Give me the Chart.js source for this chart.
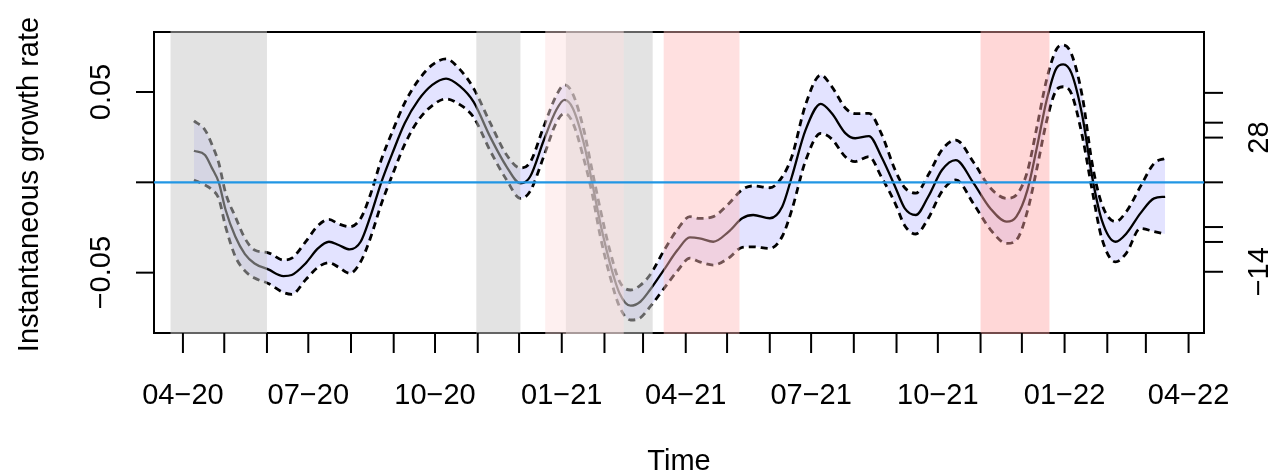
<!DOCTYPE html>
<html>
<head>
<meta charset="utf-8">
<title>Instantaneous growth rate</title>
<script src="https://cdn.jsdelivr.net/npm/chart.js@4.4.1/dist/chart.umd.min.js"></script>
<style>
  html, body { margin: 0; padding: 0; background: #fff; }
</style>
</head>
<body>
<canvas id="growth-chart" width="1282" height="473"></canvas>
<script>
// Smoothed growth rate estimate with its confidence band
const dates = [
  '2020-04-09', '2020-04-17', '2020-04-22', '2020-04-27', '2020-05-02', '2020-05-09', '2020-05-16', '2020-05-23',
  '2020-06-02', '2020-06-13', '2020-06-19', '2020-06-29', '2020-07-08', '2020-07-16', '2020-07-23', '2020-07-31',
  '2020-08-08', '2020-08-15', '2020-08-23', '2020-08-31', '2020-09-09', '2020-09-19', '2020-09-29', '2020-10-09',
  '2020-10-19', '2020-10-29', '2020-11-10', '2020-11-22', '2020-12-02', '2020-12-09', '2020-12-19', '2020-12-28',
  '2021-01-03', '2021-01-09', '2021-01-17', '2021-01-23', '2021-01-29', '2021-02-05', '2021-02-12', '2021-02-20',
  '2021-02-27', '2021-03-06', '2021-03-16', '2021-03-26', '2021-04-04', '2021-04-11', '2021-04-21', '2021-05-02',
  '2021-05-12', '2021-05-20', '2021-06-01', '2021-06-10', '2021-06-17', '2021-06-27', '2021-07-08', '2021-07-16',
  '2021-07-26', '2021-08-02', '2021-08-12', '2021-08-21', '2021-08-31', '2021-09-07', '2021-09-15', '2021-09-24',
  '2021-10-04', '2021-10-14', '2021-10-27', '2021-11-08', '2021-11-20', '2021-11-27', '2021-12-05', '2021-12-12',
  '2021-12-19', '2021-12-26', '2021-12-31', '2022-01-06', '2022-01-14', '2022-01-21', '2022-01-28', '2022-02-07',
  '2022-02-15', '2022-02-25', '2022-03-07', '2022-03-15'
];
const growth = [
  0.0175, 0.0151, 0.008, 0.0, -0.0153, -0.030, -0.0397, -0.0449,
  -0.0482, -0.0519, -0.0513, -0.0449, -0.0366, -0.0329, -0.0347, -0.0371,
  -0.0329, -0.019, 0.0, 0.016, 0.0327, 0.0456, 0.0539, 0.0574,
  0.0532, 0.0445, 0.0252, 0.0086, -0.0006, 0.0031, 0.0234, 0.040,
  0.0456, 0.041, 0.0216, 0.0, -0.0227, -0.0449, -0.0615, -0.0683,
  -0.0661, -0.0596, -0.0486, -0.0375, -0.0305, -0.031, -0.0329, -0.0274,
  -0.0199, -0.0181, -0.0199, -0.0135, 0.0031, 0.029, 0.0434, 0.0382,
  0.0271, 0.0244, 0.0256, 0.0142, -0.0024, -0.0144, -0.0181, -0.008,
  0.0068, 0.0123, -0.0006, -0.0144, -0.0218, -0.019, -0.0043, 0.0197,
  0.0456, 0.0631, 0.0653, 0.0604, 0.0363, 0.0031, -0.0209, -0.0329,
  -0.0282, -0.0172, -0.0089, -0.008
];
const upper = [
  0.034, 0.029, 0.021, 0.0107, -0.006, -0.019, -0.031, -0.0375,
  -0.039, -0.043, -0.042, -0.033, -0.024, -0.0205, -0.023, -0.0246,
  -0.020, -0.007, 0.0125, 0.028, 0.044, 0.0566, 0.065, 0.0683,
  0.0625, 0.052, 0.033, 0.0151, 0.0079, 0.011, 0.031, 0.048,
  0.0539, 0.049, 0.029, 0.0068, -0.015, -0.038, -0.055, -0.0596,
  -0.057, -0.0513, -0.038, -0.026, -0.019, -0.020, -0.019, -0.012,
  -0.004, -0.002, -0.003, 0.003, 0.0142, 0.043, 0.0594, 0.053,
  0.041, 0.038, 0.0382, 0.027, 0.0068, -0.003, -0.006, 0.004,
  0.018, 0.0234, 0.011, -0.003, -0.0089, -0.007, 0.006, 0.031,
  0.057, 0.0735, 0.076, 0.071, 0.047, 0.0105, -0.012, -0.0218,
  -0.016, -0.0024, 0.0105, 0.0133
];
const lower = [
  0.0013, -0.0015, -0.004, -0.009, -0.0246, -0.041, -0.049, -0.053,
  -0.056, -0.061, -0.062, -0.054, -0.047, -0.0445, -0.047, -0.0504,
  -0.044, -0.031, -0.012, 0.004, 0.021, 0.0345, 0.0425, 0.0462,
  0.043, 0.036, 0.0175, 0.0013, -0.0089, -0.005, 0.0145, 0.033,
  0.0382, 0.033, 0.013, -0.006, -0.030, -0.052, -0.069, -0.0762,
  -0.075, -0.069, -0.059, -0.049, -0.042, -0.044, -0.0458, -0.042,
  -0.036, -0.0357, -0.0366, -0.030, -0.0153, 0.012, 0.0271, 0.024,
  0.014, 0.0115, 0.0142, 0.003, -0.0116, -0.024, -0.0286, -0.020,
  -0.005, 0.0013, -0.012, -0.026, -0.0338, -0.032, -0.016, 0.008,
  0.034, 0.051, 0.0529, 0.049, 0.025, -0.0043, -0.031, -0.044,
  -0.039, -0.0255, -0.0273, -0.0286
];

// Shaded periods
const greyPeriods = [
  ['2020-03-23', '2020-06-01'],
  ['2020-10-31', '2020-12-02'],
  ['2021-01-04', '2021-03-08']
];
const redPeriods = [
  ['2020-12-20', '2021-02-15'],
  ['2021-03-16', '2021-05-10'],
  ['2021-11-01', '2021-12-21']
];

// Axis ticks
const xTickLabels = ['04\u221220', '07\u221220', '10\u221220', '01\u221221', '04\u221221', '07\u221221', '10\u221221', '01\u221222', '04\u221222'];
const leftTicks = [-0.05, 0, 0.05];
const leftLabels = ['\u22120.05', '', '0.05'];
const doublingTimes = [14, 21, 28, -28, -21, -14];   // days; 0 growth = no doubling
const doublingLabels = ['', '', '28', '', '', '\u221214'];

const DAY0 = Date.UTC(2020, 3, 1);
function toDay(s) {
  const p = s.split('-').map(Number);
  return (Date.UTC(p[0], p[1] - 1, p[2]) - DAY0) / 86400000;
}

// first of every month from 04-2020 to 04-2022
const monthTicks = [];
for (let i = 0; i <= 24; i++) {
  monthTicks.push((Date.UTC(2020, 3 + i, 1) - DAY0) / 86400000);
}

const FONT = '29px "Liberation Sans", Arial, sans-serif';
const redFills = ['rgba(253,222,222,0.45)', 'rgba(255,186,186,0.45)', 'rgba(255,166,166,0.45)'];

function series(values) {
  return values.map((v, i) => ({ x: toDay(dates[i]), y: v }));
}

function line(ctx, x1, y1, x2, y2) {
  ctx.beginPath();
  ctx.moveTo(x1, y1);
  ctx.lineTo(x2, y2);
  ctx.stroke();
}

function rotatedText(ctx, text, x, y) {
  ctx.save();
  ctx.translate(x, y);
  ctx.rotate(-Math.PI / 2);
  ctx.textAlign = 'center';
  ctx.textBaseline = 'alphabetic';
  ctx.fillText(text, 0, 0);
  ctx.restore();
}

const basePlot = {
  id: 'basePlot',
  beforeDatasetsDraw(chart) {
    const ctx = chart.ctx;
    const a = chart.chartArea;
    ctx.save();
    ctx.strokeStyle = '#000';
    ctx.lineWidth = 2;
    ctx.strokeRect(a.left, a.top, a.right - a.left, a.bottom - a.top);
    ctx.restore();
  },
  afterDatasetsDraw(chart) {
    const ctx = chart.ctx;
    const a = chart.chartArea;
    const xs = chart.scales.x;
    const ys = chart.scales.y;
    ctx.save();
    // grey periods, then red periods on top
    greyPeriods.forEach(p => {
      const x1 = xs.getPixelForValue(toDay(p[0]));
      const x2 = xs.getPixelForValue(toDay(p[1]));
      ctx.fillStyle = 'rgba(200,200,200,0.5)';
      ctx.fillRect(x1, a.top - 1, x2 - x1, a.bottom - a.top + 2);
    });
    redPeriods.forEach((p, i) => {
      const x1 = xs.getPixelForValue(toDay(p[0]));
      const x2 = xs.getPixelForValue(toDay(p[1]));
      ctx.fillStyle = redFills[i];
      ctx.fillRect(x1, a.top - 1, x2 - x1, a.bottom - a.top + 2);
    });
    // zero growth line
    const y0 = ys.getPixelForValue(0);
    ctx.strokeStyle = 'rgb(33,150,228)';
    ctx.lineWidth = 2.2;
    line(ctx, a.left, y0, a.right, y0);
    ctx.restore();
  },
  afterDraw(chart) {
    const ctx = chart.ctx;
    const a = chart.chartArea;
    const xs = chart.scales.x;
    const ys = chart.scales.y;
    ctx.save();
    ctx.strokeStyle = '#000';
    ctx.fillStyle = '#000';
    ctx.lineWidth = 2;
    ctx.font = FONT;

    // bottom axis: monthly ticks, label every third month
    monthTicks.forEach((d, i) => {
      const px = xs.getPixelForValue(d);
      line(ctx, px, a.bottom, px, a.bottom + 20);
      if (i % 3 === 0) {
        ctx.textAlign = 'center';
        ctx.textBaseline = 'alphabetic';
        ctx.fillText(xTickLabels[i / 3], px, 404);
      }
    });

    // left axis
    leftTicks.forEach((v, i) => {
      const py = ys.getPixelForValue(v);
      line(ctx, a.left, py, a.left - 18, py);
      if (leftLabels[i]) rotatedText(ctx, leftLabels[i], 110, py);
    });

    // right axis: doubling time in days
    const rightTicks = doublingTimes.map(d => Math.log(2) / d).concat([0]);
    rightTicks.forEach(v => {
      const py = ys.getPixelForValue(v);
      line(ctx, a.right, py, a.right + 19, py);
    });
    doublingTimes.forEach((d, i) => {
      if (doublingLabels[i]) rotatedText(ctx, doublingLabels[i], 1268, ys.getPixelForValue(Math.log(2) / d));
    });

    // axis titles
    ctx.textAlign = 'center';
    ctx.textBaseline = 'alphabetic';
    ctx.fillText('Time', (a.left + a.right) / 2, 470);
    rotatedText(ctx, 'Instantaneous growth rate', 38, (a.top + a.bottom) / 2 + 2);
    ctx.restore();
  }
};

const dashed = {
  borderColor: '#000',
  borderWidth: 2.8,
  borderDash: [7, 5],
  borderCapStyle: 'butt',
  pointRadius: 0,
  cubicInterpolationMode: 'monotone'
};

new Chart(document.getElementById('growth-chart'), {
  type: 'line',
  data: {
    datasets: [
      {
        label: 'Growth rate',
        data: series(growth),
        borderColor: '#000',
        borderWidth: 2.3,
        pointRadius: 0,
        cubicInterpolationMode: 'monotone',
        fill: false
      },
      Object.assign({ label: 'Upper', data: series(upper), fill: '+1', backgroundColor: 'rgba(0,0,255,0.11)' }, dashed),
      Object.assign({ label: 'Lower', data: series(lower), fill: false }, dashed)
    ]
  },
  options: {
    responsive: false,
    animation: false,
    layout: { padding: { left: 154, right: 78, top: 32, bottom: 140 } },
    scales: {
      x: { type: 'linear', min: -21, max: 741.2, display: false },
      y: { min: -0.0834, max: 0.0832, display: false }
    },
    plugins: {
      legend: { display: false },
      tooltip: { enabled: false },
      filler: { drawTime: 'beforeDatasetsDraw' }
    }
  },
  plugins: [basePlot]
});
</script>
</body>
</html>
